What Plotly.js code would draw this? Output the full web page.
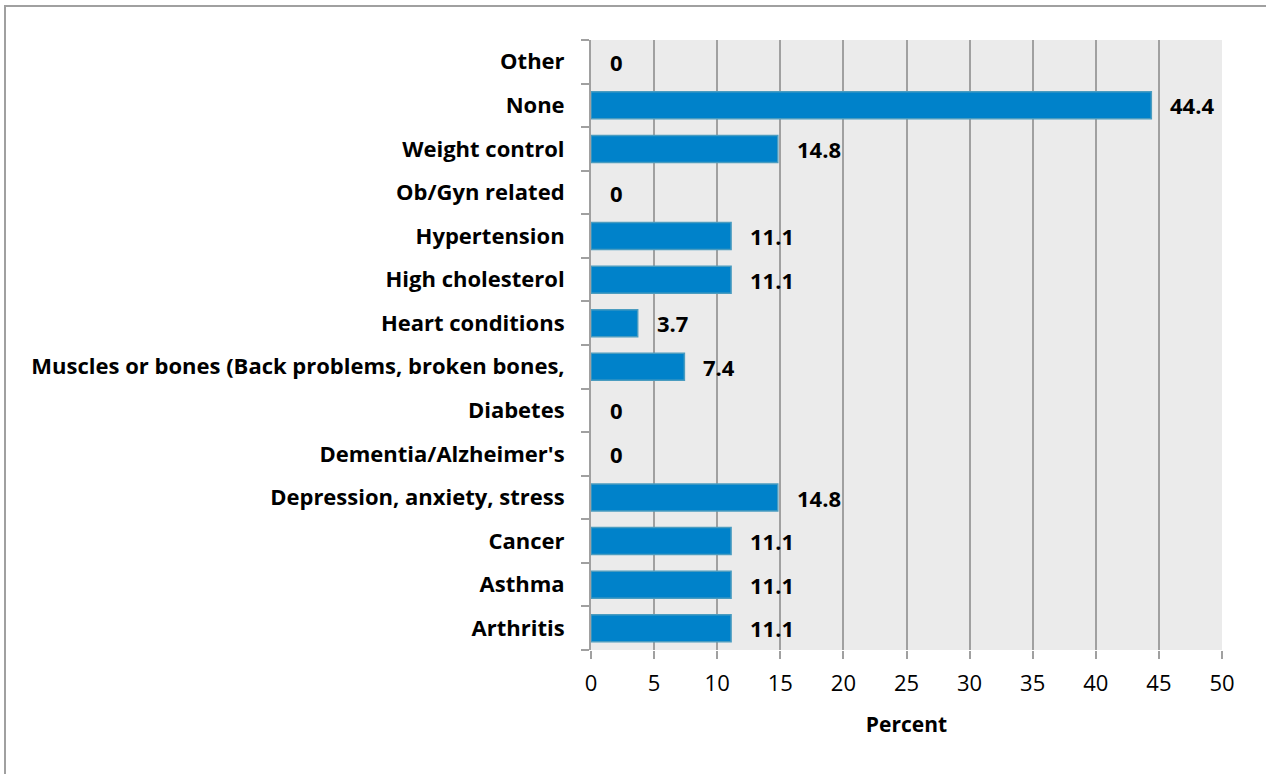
<!DOCTYPE html>
<html><head><meta charset="utf-8">
<script src="https://cdn.plot.ly/plotly-3.0.1.min.js"></script>
<style>html,body{margin:0;padding:0;background:#fff}#chart{width:1266px;height:774px}</style>
</head><body><div id="chart"></div>
<script>
const categories = ["Arthritis","Asthma","Cancer","Depression, anxiety, stress","Dementia/Alzheimer's","Diabetes","Muscles or bones (Back problems, broken bones,","Heart conditions","High cholesterol","Hypertension","Ob/Gyn related","Weight control","None","Other"];
const percents = [11.1,11.1,11.1,14.8,0,0,7.4,3.7,11.1,11.1,0,14.8,44.4,0];
const xTicks = [0,5,10,15,20,25,30,35,40,45,50];

const FONT = "'Open Sans', sans-serif";
const trace = {
  type: "bar", orientation: "h", x: percents, y: categories,
  marker: {color: "#0082CA", line: {color: "#4A9CC0", width: percents.map(v => v > 0 ? 1.5 : 0)}},
  hoverinfo: "x+y"
};
const annotations = categories.map((c,i)=>({
  x: percents[i], y: c, xref: "x", yref: "y", text: String(percents[i]),
  showarrow: false, xanchor: "left", xshift: 17,
  font: {family: FONT, size: 22, color: "#000", weight: "bold"}
}));
const layout = {
  width: 1266, height: 774,
  margin: {l: 591, r: 44, t: 40, b: 124},
  paper_bgcolor: "#fff", plot_bgcolor: "#EBEBEB",
  bargap: 0.38,
  showlegend: false,
  xaxis: {
    range: [0, 50], tickvals: xTicks, ticktext: xTicks.map(String),
    showgrid: true, gridcolor: "#A0A0A0", gridwidth: 2,
    zeroline: false, showline: false,
    ticks: "outside", ticklen: 8, tickcolor: "#A0A0A0", tickwidth: 2,
    ticklabelstandoff: 6,
    tickfont: {family: FONT, size: 22, color: "#000"},
    title: {text: "Percent", font: {family: FONT, size: 21, color: "#000", weight: "bold"}, standoff: 20},
    fixedrange: true
  },
  yaxis: {
    type: "category", categoryorder: "array", categoryarray: categories,
    showgrid: false, zeroline: false,
    showline: true, linecolor: "#A0A0A0", linewidth: 2,
    ticks: "outside", tickson: "boundaries", ticklen: 8, tickcolor: "#A0A0A0", tickwidth: 2,
    ticklabelstandoff: 20,
    tickfont: {family: FONT, size: 22, color: "#000", weight: "bold"},
    fixedrange: true
  },
  annotations: annotations,
  shapes: [{
    type: "rect", xref: "paper", yref: "paper",
    x0: (5-591)/631, x1: 1.2, y0: -0.4, y1: (650-6)/610,
    line: {color: "#A0A0A0", width: 2}, fillcolor: "rgba(0,0,0,0)", layer: "below"
  }]
};
Plotly.newPlot("chart", [trace], layout, {displayModeBar: false, staticPlot: true});
</script></body></html>
